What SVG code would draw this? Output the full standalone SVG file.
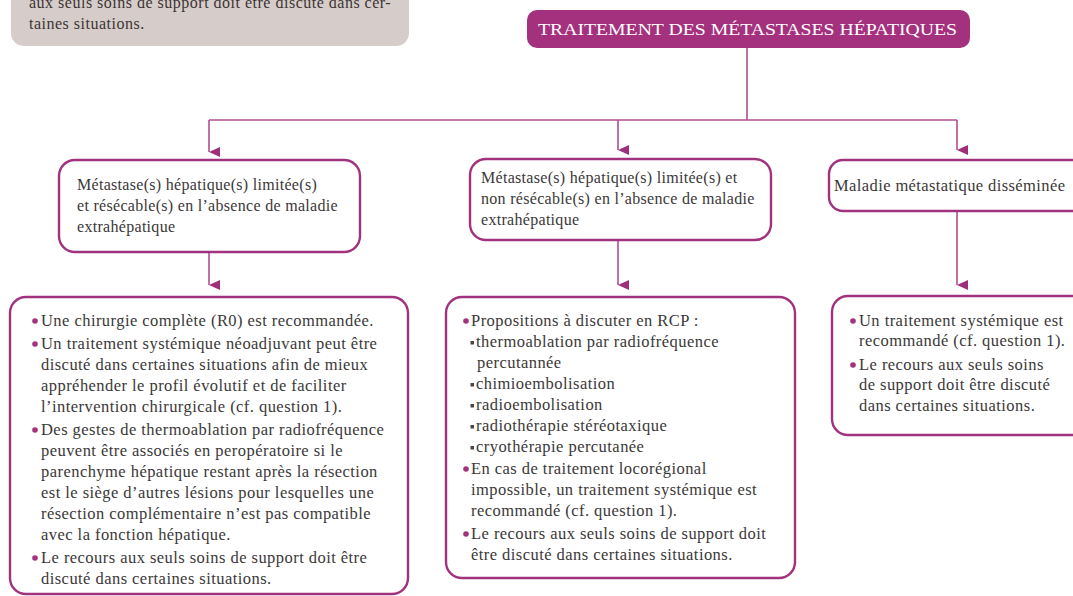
<svg xmlns="http://www.w3.org/2000/svg" width="1073" height="596" viewBox="0 0 1073 596">
<style>
.box{fill:#ffffff;stroke:#a1327d;stroke-width:2.4}
.t{font-family:"Liberation Serif","Times New Roman",serif;fill:#3b3838}
.mid{font-size:16px;letter-spacing:0.3px}
.body{font-size:16.5px;letter-spacing:0.45px}
.grey{font-size:16px;letter-spacing:0.5px;fill:#3d3434}
.conn{fill:none;stroke:#b04f91;stroke-width:1.6}
.dot{fill:#a3337f}
.sq{fill:#4a4545}
</style>
<defs>
<marker id="ah" markerUnits="userSpaceOnUse" markerWidth="12" markerHeight="12" viewBox="0 0 12 12" refX="6" refY="11" orient="auto-start-reverse">
<path d="M1,0 L11,0 L6,11 Z" fill="#9e2f7a"/>
</marker>
</defs>
<rect width="1073" height="596" fill="#ffffff"/>

<g id="note">
<rect x="11" y="-20" width="398" height="66" rx="13" fill="#d6cdca"/>
<text class="t grey" x="29" y="8">aux seuls soins de support doit être discuté dans cer-</text>
<text class="t grey" x="29" y="29">taines situations.</text>
</g>

<g id="connectors">
<path class="conn" d="M747,48 V120"/>
<path class="conn" d="M209,120 H957"/>
<path class="conn" d="M209,120 V152" marker-end="url(#ah)"/>
<path class="conn" d="M618,120 V150" marker-end="url(#ah)"/>
<path class="conn" d="M957,120 V150" marker-end="url(#ah)"/>
<path class="conn" d="M209,252 V285" marker-end="url(#ah)"/>
<path class="conn" d="M618,240 V285" marker-end="url(#ah)"/>
<path class="conn" d="M957,211 V285" marker-end="url(#ah)"/>
</g>

<g id="title">
<rect x="527" y="10" width="443" height="38" rx="10" fill="#a4317e"/>
<text x="538" y="35" font-family="'Liberation Serif','Times New Roman',serif" font-size="17.5" fill="#ffffff" textLength="419" lengthAdjust="spacingAndGlyphs">TRAITEMENT DES MÉTASTASES HÉPATIQUES</text>
</g>

<g id="cond-resecable">
<rect class="box" x="59" y="160" width="301" height="92" rx="16"/>
<text class="t mid" x="77" y="190">Métastase(s) hépatique(s) limitée(s)</text>
<text class="t mid" x="77" y="211">et résécable(s) en l’absence de maladie</text>
<text class="t mid" x="77" y="232">extrahépatique</text>
</g>

<g id="cond-non-resecable">
<rect class="box" x="470" y="159" width="301" height="81" rx="16"/>
<text class="t mid" x="481" y="183">Métastase(s) hépatique(s) limitée(s) et</text>
<text class="t mid" x="481" y="204">non résécable(s) en l’absence de maladie</text>
<text class="t mid" x="481" y="225">extrahépatique</text>
</g>

<g id="cond-disseminee">
<rect class="box" x="829" y="160" width="260" height="51" rx="14"/>
<text class="t mid" x="834" y="191" style="font-size:16.5px;letter-spacing:0.4px">Maladie métastatique disséminée</text>
</g>

<g id="reco-resecable">
<rect class="box" x="10" y="297" width="398" height="297" rx="16"/>
<circle class="dot" cx="35" cy="321" r="2.8"/>
<text class="t body" x="41" y="326">Une chirurgie complète (R0) est recommandée.</text>
<circle class="dot" cx="35" cy="344" r="2.8"/>
<text class="t body" x="41" y="349">Un traitement systémique néoadjuvant peut être</text>
<text class="t body" x="41" y="370">discuté dans certaines situations afin de mieux</text>
<text class="t body" x="41" y="391">appréhender le profil évolutif et de faciliter</text>
<text class="t body" x="41" y="412">l’intervention chirurgicale (cf. question 1).</text>
<circle class="dot" cx="35" cy="430" r="2.8"/>
<text class="t body" x="41" y="435">Des gestes de thermoablation par radiofréquence</text>
<text class="t body" x="41" y="456">peuvent être associés en peropératoire si le</text>
<text class="t body" x="41" y="477">parenchyme hépatique restant après la résection</text>
<text class="t body" x="41" y="498">est le siège d’autres lésions pour lesquelles une</text>
<text class="t body" x="41" y="519">résection complémentaire n’est pas compatible</text>
<text class="t body" x="41" y="540">avec la fonction hépatique.</text>
<circle class="dot" cx="35" cy="558" r="2.8"/>
<text class="t body" x="41" y="563">Le recours aux seuls soins de support doit être</text>
<text class="t body" x="41" y="584">discuté dans certaines situations.</text>
</g>

<g id="reco-non-resecable">
<rect class="box" x="446" y="297" width="349" height="281" rx="16"/>
<circle class="dot" cx="466" cy="321" r="2.8"/>
<text class="t body" x="471" y="326">Propositions à discuter en RCP :</text>
<rect class="sq" x="470.5" y="341" width="3.5" height="3.5"/>
<text class="t body" x="476" y="347">thermoablation par radiofréquence</text>
<text class="t body" x="477" y="368">percutannée</text>
<rect class="sq" x="470.5" y="383" width="3.5" height="3.5"/>
<text class="t body" x="476" y="389">chimioembolisation</text>
<rect class="sq" x="470.5" y="404" width="3.5" height="3.5"/>
<text class="t body" x="476" y="410">radioembolisation</text>
<rect class="sq" x="470.5" y="425" width="3.5" height="3.5"/>
<text class="t body" x="476" y="431">radiothérapie stéréotaxique</text>
<rect class="sq" x="470.5" y="446" width="3.5" height="3.5"/>
<text class="t body" x="476" y="452">cryothérapie percutanée</text>
<circle class="dot" cx="466" cy="469" r="2.8"/>
<text class="t body" x="471" y="474">En cas de traitement locorégional</text>
<text class="t body" x="471" y="495">impossible, un traitement systémique est</text>
<text class="t body" x="471" y="516">recommandé (cf. question 1).</text>
<circle class="dot" cx="466" cy="534" r="2.8"/>
<text class="t body" x="471" y="539">Le recours aux seuls soins de support doit</text>
<text class="t body" x="471" y="560">être discuté dans certaines situations.</text>
</g>

<g id="reco-disseminee">
<rect class="box" x="832" y="296" width="260" height="139" rx="16"/>
<circle class="dot" cx="853" cy="321" r="2.8"/>
<text class="t body" x="859" y="326">Un traitement systémique est</text>
<text class="t body" x="859" y="346">recommandé (cf. question 1).</text>
<circle class="dot" cx="853" cy="365" r="2.8"/>
<text class="t body" x="859" y="370">Le recours aux seuls soins</text>
<text class="t body" x="859" y="390">de support doit être discuté</text>
<text class="t body" x="859" y="411">dans certaines situations.</text>
</g>
</svg>
